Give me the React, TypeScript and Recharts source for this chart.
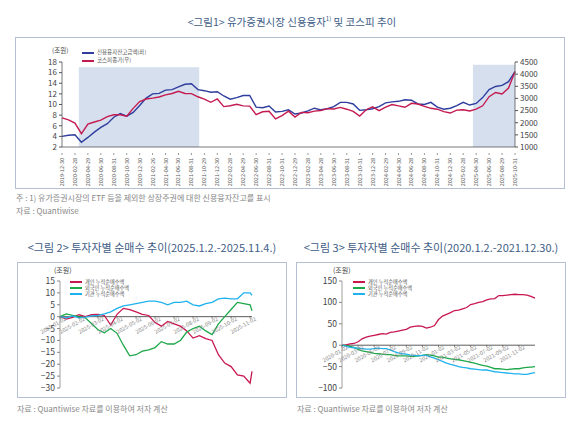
import { Line, LineChart, ReferenceArea, ReferenceLine, XAxis, YAxis } from "recharts";

const FONT = '"Noto Sans CJK KR", "Noto Sans", sans-serif';

// <그림1> month-end values, 2019-12 ~ 2025-10
const creditBalance = [
  4.0, 4.2, 4.3, 2.9, 3.8, 4.8, 5.7, 6.4, 7.6, 8.3, 7.8, 8.5, 9.8, 11.2, 12.0, 12.1, 12.7, 12.8, 13.3, 13.8,
  13.9, 12.8, 12.6, 12.3, 12.4, 11.6, 11.0, 11.3, 11.7, 11.7, 9.5, 9.4, 9.7, 8.6, 8.7, 9.0, 8.2, 8.4, 8.8, 9.3,
  9.0, 9.2, 9.6, 10.4, 10.4, 10.1, 8.9, 9.0, 9.2, 9.6, 10.3, 10.5, 10.6, 10.9, 10.8, 10.1, 10.0, 10.4, 9.5, 9.1,
  9.3, 9.8, 10.4, 9.9, 10.2, 11.3, 12.8, 13.4, 13.6, 14.3, 16.2,
];
const kospiClose = [
  2198, 2119, 1987, 1550, 1947, 2030, 2108, 2249, 2326, 2327, 2267, 2591, 2873, 2976, 3013, 3061, 3147, 3204,
  3296, 3202, 3199, 3068, 2970, 2839, 2977, 2663, 2699, 2757, 2695, 2685, 2332, 2451, 2472, 2155, 2293, 2472,
  2236, 2425, 2412, 2476, 2501, 2577, 2564, 2632, 2556, 2465, 2277, 2535, 2655, 2497, 2642, 2747, 2692, 2636,
  2798, 2770, 2674, 2593, 2556, 2455, 2399, 2517, 2532, 2481, 2556, 2697, 3071, 3245, 3186, 3425, 4107,
];
const fig1Ticks = [
  "2019-12-30", "2020-02-28", "2020-04-29", "2020-06-30", "2020-08-31", "2020-10-30", "2020-12-30",
  "2021-02-26", "2021-04-30", "2021-06-30", "2021-08-31", "2021-10-29", "2021-12-30", "2022-02-28",
  "2022-04-29", "2022-06-30", "2022-08-31", "2022-10-31", "2022-12-29", "2023-02-28", "2023-04-28",
  "2023-06-30", "2023-08-31", "2023-10-31", "2023-12-28", "2024-02-29", "2024-04-30", "2024-06-28",
  "2024-08-30", "2024-10-31", "2024-12-30", "2025-02-28", "2025-04-30", "2025-06-30", "2025-08-29",
  "2025-10-31",
];
// shaded periods, in months from 2019-12
const fig1Shades = [
  { from: 2.6, to: 21.2, top: 17 },
  { from: 63.5, to: 70, top: 17.5 },
];
const fig1Legend = [
  { name: "신용융자잔고금액(좌)", color: "#2e3d9e" },
  { name: "코스피종가(우)", color: "#c41a50" },
];

// <그림2> cumulative net buying, every ~10 days from 2025-01-02 (조원)
const fig2Individual = [
  0, -1, -0.3, 0.8, 0, 0.8, 1, 0.5, -3.5, 1, 3.5, 3, 2, 1, 0.5, -2.5, -4, -2, -3, -4, -6, -9, -8, -9.2, -10,
  -16, -19.5, -21, -24.5, -25, -28, -23,
];
const fig2Foreign = [
  0, 1.2, 0.5, 0, -0.5, -3, -5.5, -6.8, -5, -7, -12, -16.5, -16, -14.5, -14, -13, -10.5, -11.5, -11.5, -10,
  -6.5, -5, -4, -6, -7.5, -3, 0, 3, 6, 5.5, 5, 2.5,
];
const fig2Institution = [
  0, -0.5, 0.3, -0.5, -0.2, 0.3, 0.5, 1.2, 2, 3.5, 4.5, 5, 5.5, 6, 6.5, 6.5, 6, 5, 6, 6, 6.5, 5, 4.5, 5.5, 6,
  7.5, 7.8, 7.5, 7.5, 10, 10, 9,
];
const fig2Ticks = [
  "2025-01-02", "2025-02-02", "2025-03-02", "2025-04-02", "2025-05-02", "2025-06-02", "2025-07-02",
  "2025-08-02", "2025-09-02", "2025-10-02", "2025-11-02",
];

// <그림3> cumulative net buying, every half month from 2020-01-02 (조원)
const fig3Individual = [
  0, 1, 3, 4, 8, 15, 19, 21, 23, 25, 27, 26, 30, 31, 33, 35, 37, 42, 44, 45, 44, 40, 42, 46, 60, 68, 72, 76,
  81, 82, 85, 88, 95, 97, 100, 102, 106, 108, 109, 116, 116, 117, 118, 119, 118, 118, 117, 114, 110,
];
const fig3Foreign = [
  0, -1, -3, -5, -10, -13, -15, -17, -19, -20, -21, -22, -22, -24, -25, -25, -25, -26, -26, -25, -24, -22,
  -23, -25, -28, -28, -30, -32, -33, -34, -36, -38, -40, -42, -45, -47, -49, -52, -55, -55, -56, -57, -56,
  -55, -55, -53, -52, -51, -50,
];
const fig3Institution = [
  0, -3, -5, -6, -7, -8, -9, -9, -8, -7, -8, -8, -11, -15, -18, -20, -21, -23, -24, -25, -24, -24, -27, -30,
  -34, -38, -42, -45, -47, -50, -52, -53, -55, -56, -57, -58, -58, -60, -62, -63, -64, -65, -66, -67, -67,
  -68, -68, -66, -64,
];
const fig3Ticks = [
  "2020-01-02", "2020-03-02", "2020-05-02", "2020-07-02", "2020-09-02", "2020-11-02", "2021-01-02",
  "2021-03-02", "2021-05-02", "2021-07-02", "2021-09-02", "2021-11-02",
];

const INVESTORS = [
  { key: "ind", name: "개인 누적순매수액", color: "#c8174f" },
  { key: "for", name: "외국인 누적순매수액", color: "#1ea84a" },
  { key: "ins", name: "기관 누적순매수액", color: "#1fb2ee" },
];

const minus = (v: number) => String(v).replace("-", "\u2212");

function Text({ x, y, size, color = "#888", children, center }: any) {
  const style: any = {
    position: "absolute",
    top: y,
    fontSize: size,
    color,
    lineHeight: 1,
    whiteSpace: "nowrap",
    fontFamily: FONT,
  };
  if (center) {
    style.left = x - 200;
    style.width = 400;
    style.textAlign = "center";
  } else style.left = x;
  return <div style={style}>{children}</div>;
}

function Box({ x, y, w, h }: any) {
  return (
    <div style={{ position: "absolute", left: x, top: y, width: w, height: h, border: "1px solid #b4bfd2", boxSizing: "border-box" }} />
  );
}

function LegendList({ x, y, items, lineW, gap, size }: any) {
  return (
    <div style={{ position: "absolute", left: x, top: y, fontFamily: FONT }}>
      {items.map((it: any) => (
        <div key={it.name} style={{ display: "flex", alignItems: "center", height: gap }}>
          <div style={{ width: lineW, height: 1.6, background: it.color, marginRight: 3 }} />
          <span style={{ fontSize: size, color: "#555", lineHeight: 1 }}>{it.name}</span>
        </div>
      ))}
    </div>
  );
}

function MonthTick({ x, y, payload }: any) {
  const label = fig1Ticks[Math.round(payload.value / 2)];
  return (
    <g transform={`translate(${x},${y})`}>
      <line y1={-2} y2={0} stroke="#555" strokeWidth={0.6} />
      <text transform="rotate(-90)" x={-3} y={2} textAnchor="end" fontSize={5.5} fill="#555" fontFamily={FONT}>
        {label}
      </text>
    </g>
  );
}

function makeZeroTick(labels: string[], zeroY: number, step: number) {
  return function ZeroTick({ x, payload }: any) {
    const label = labels[Math.round(payload.value / step)];
    return (
      <g transform={`translate(${x},${zeroY})`}>
        <line y1={0} y2={2} stroke="#333" strokeWidth={0.6} />
        <text transform="rotate(-30)" x={4} y={6} textAnchor="end" fontSize={5.5} fill="#888" fontFamily={FONT}>
          {label}
        </text>
      </g>
    );
  };
}

function CreditChart() {
  const data = creditBalance.map((c, i) => ({ m: i, credit: c, kospi: kospiClose[i] }));
  const ticks = fig1Ticks.map((_, i) => i * 2);
  return (
    <LineChart width={550} height={151} data={data} margin={{ top: 25, right: 15, bottom: 5, left: 17 }}>
      {fig1Shades.map((s) => (
        <ReferenceArea key={s.from} yAxisId="l" x1={s.from} x2={s.to} y1={2} y2={s.top} fill="#d6dfee" fillOpacity={1} stroke="none" />
      ))}
      <XAxis dataKey="m" type="number" domain={[0, 70]} ticks={ticks} interval={0} height={36} tick={<MonthTick />} tickLine={false} axisLine={{ stroke: "#555", strokeWidth: 0.8 }} />
      <YAxis yAxisId="l" domain={[2, 18]} ticks={[2, 4, 6, 8, 10, 12, 14, 16, 18]} interval={0} width={30} tick={{ fontSize: 8, fill: "#444" }} tickSize={3} axisLine={{ stroke: "#555", strokeWidth: 0.8 }} tickLine={{ stroke: "#555" }} />
      <YAxis yAxisId="r" orientation="right" domain={[1000, 4500]} ticks={[1000, 1500, 2000, 2500, 3000, 3500, 4000, 4500]} interval={0} width={35} tick={{ fontSize: 8, fill: "#444" }} tickSize={3} axisLine={{ stroke: "#555", strokeWidth: 0.8 }} tickLine={{ stroke: "#555" }} />
      <Line yAxisId="l" dataKey="credit" name={fig1Legend[0].name} stroke={fig1Legend[0].color} strokeWidth={1.4} dot={false} isAnimationActive={false} />
      <Line yAxisId="r" dataKey="kospi" name={fig1Legend[1].name} stroke={fig1Legend[1].color} strokeWidth={1.4} dot={false} isAnimationActive={false} />
    </LineChart>
  );
}

function InvestorChart({ series, step, labels, labelStep, domain, ticks, xMax, marginLeft, yWidth, plotW }: any) {
  const n = series[0].length;
  const data = Array.from({ length: n }, (_, i) => ({
    t: Math.min(i * step, xMax),
    ind: series[0][i],
    for: series[1][i],
    ins: series[2][i],
  }));
  const top = 19;
  const plotH = 107;
  const zeroY = top + (plotH * domain[1]) / (domain[1] - domain[0]);
  const Tick = makeZeroTick(labels, zeroY, labelStep);
  return (
    <LineChart width={268} height={134} data={data} margin={{ top, right: 268 - marginLeft - yWidth - plotW, bottom: 7, left: marginLeft }}>
      <XAxis dataKey="t" type="number" domain={[0, xMax]} ticks={labels.map((_: string, i: number) => i * labelStep)} interval={0} height={1} tick={<Tick />} tickLine={false} axisLine={false} />
      <YAxis domain={domain} ticks={ticks} interval={0} width={yWidth} tick={{ fontSize: 8.5, fill: "#444" }} tickFormatter={minus} tickSize={3} axisLine={{ stroke: "#888", strokeWidth: 0.8 }} tickLine={{ stroke: "#888" }} />
      <ReferenceLine y={0} stroke="#333" strokeWidth={0.8} />
      {INVESTORS.map((s) => (
        <Line key={s.key} dataKey={s.key} name={s.name} stroke={s.color} strokeWidth={1.3} dot={false} isAnimationActive={false} />
      ))}
    </LineChart>
  );
}

export default function App() {
  return (
    <div style={{ position: "fixed", left: 0, top: 0, width: 580, height: 422, background: "#fff", overflow: "hidden", fontFamily: FONT }}>
      <Text x={292} y={16} size={10.5} color="#3e5c86" center>
        {"<그림1> 유가증권시장 신용융자"}
        <sup style={{ fontSize: 6 }}>1)</sup>
        {" 및 코스피 추이"}
      </Text>
      <Box x={15} y={37} w={550} h={152} />
      <div style={{ position: "absolute", left: 15, top: 37 }}>
        <CreditChart />
      </div>
      <Text x={52} y={47} size={6.5} color="#444">(조원)</Text>
      <LegendList x={82} y={49} items={fig1Legend} lineW={12} gap={8} size={5.5} />
      <Text x={16} y={194} size={8} color="#888">주 : 1) 유가증권시장의 ETF 등을 제외한 상장주권에 대한 신용융자잔고를 표시</Text>
      <Text x={16} y={207} size={8} color="#888">자료 : Quantiwise</Text>

      <Text x={152} y={242} size={11} color="#3e5c86" center>{"<그림 2> 투자자별 순매수 추이(2025.1.2.-2025.11.4.)"}</Text>
      <Text x={431} y={242} size={11} color="#3e5c86" center>{"<그림 3> 투자자별 순매수 추이(2020.1.2.-2021.12.30.)"}</Text>
      <Box x={17} y={262} w={270} h={136} />
      <Box x={296} y={262} w={270} h={136} />
      <div style={{ position: "absolute", left: 17, top: 262 }}>
        <InvestorChart
          series={[fig2Individual, fig2Foreign, fig2Institution]}
          step={1 / 3}
          labels={fig2Ticks}
          labelStep={1}
          domain={[-30, 15]}
          ticks={[-30, -25, -20, -15, -10, -5, 0, 5, 10, 15]}
          xMax={10.1}
          marginLeft={13}
          yWidth={30}
          plotW={192}
        />
      </div>
      <div style={{ position: "absolute", left: 296, top: 262 }}>
        <InvestorChart
          series={[fig3Individual, fig3Foreign, fig3Institution]}
          step={0.5}
          labels={fig3Ticks}
          labelStep={2}
          domain={[-100, 150]}
          ticks={[-100, -50, 0, 50, 100, 150]}
          xMax={24}
          marginLeft={14}
          yWidth={32}
          plotW={193}
        />
      </div>
      <Text x={54} y={267} size={7} color="#444">(조원)</Text>
      <Text x={333} y={267} size={7} color="#444">(조원)</Text>
      <LegendList x={70} y={279} items={INVESTORS} lineW={12} gap={6} size={5.2} />
      <LegendList x={353} y={279} items={INVESTORS} lineW={12} gap={6} size={5.2} />
      <Text x={17} y={405} size={8} color="#888">자료 : Quantiwise 자료를 이용하여 저자 계산</Text>
      <Text x={297} y={405} size={8} color="#888">자료 : Quantiwise 자료를 이용하여 저자 계산</Text>
    </div>
  );
}
